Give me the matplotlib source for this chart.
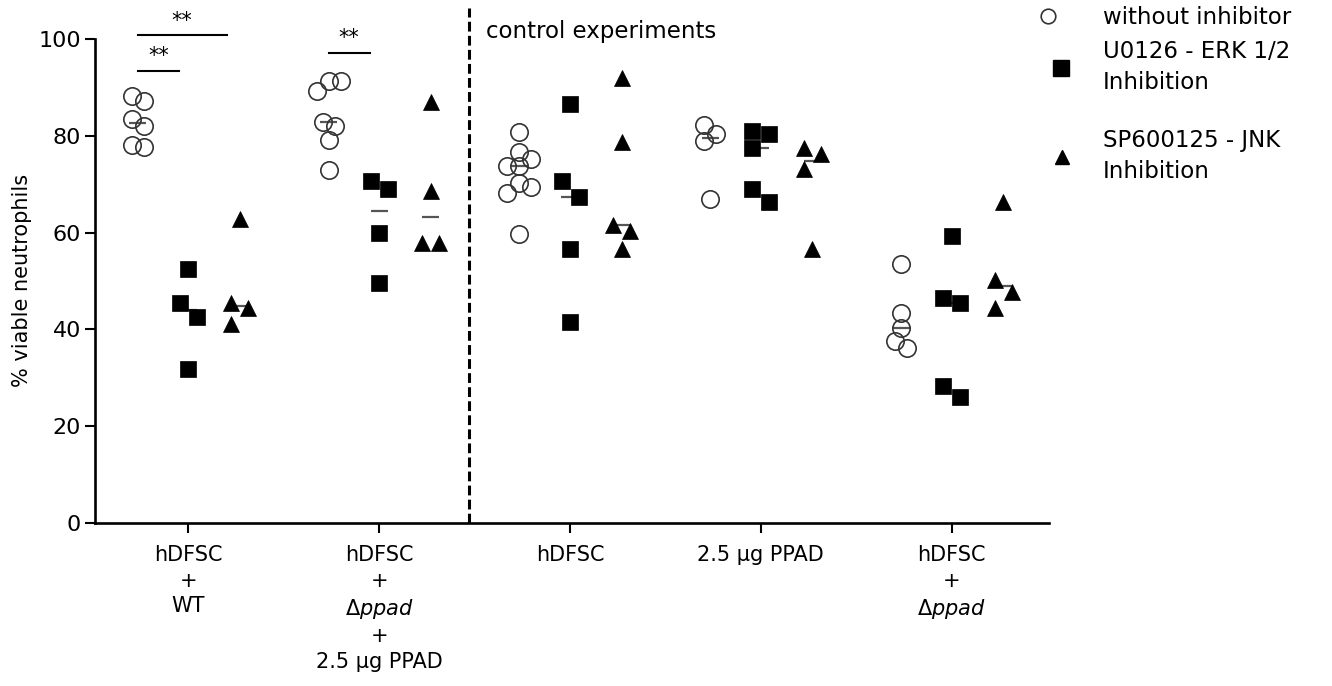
import numpy as np
import matplotlib
matplotlib.use("Agg")
import matplotlib.pyplot as plt
from matplotlib.lines import Line2D

plt.rcParams['font.family'] = ['DejaVu Sans']
plt.rcParams['mathtext.fontset'] = 'dejavusans'

# ---------------- data ----------------
categories = [
    'hDFSC\n+\nWT',
    'hDFSC\n+\n$\\Delta\\mathit{ppad}$\n+\n2.5 µg PPAD',
    'hDFSC',
    '2.5 µg PPAD',
    'hDFSC\n+\n$\\Delta\\mathit{ppad}$',
]
series_names = ['without inhibitor', 'U0126 - ERK 1/2\nInhibition', 'SP600125 - JNK\nInhibition']

without_inhibitor = [
    [88.3, 87.3, 83.4, 82.0, 78.1, 77.7],
    [91.3, 91.3, 89.3, 82.9, 82.0, 79.1, 72.9],
    [80.8, 76.7, 75.3, 73.8, 73.8, 70.3, 69.5, 68.2, 59.8],
    [82.2, 80.3, 78.9, 67.0],
    [53.4, 43.4, 40.3, 37.6, 36.2],
]
u0126 = [
    [52.5, 45.5, 42.6, 31.7],
    [70.7, 69.1, 60.0, 49.5],
    [86.5, 70.7, 67.4, 56.7, 41.5],
    [81.0, 80.3, 77.4, 69.1, 66.3],
    [59.3, 46.5, 45.4, 28.3, 26.0],
]
sp600125 = [
    [62.7, 45.5, 44.3, 41.0],
    [86.9, 68.6, 57.8, 57.8],
    [92.0, 78.7, 61.5, 60.3, 56.7],
    [77.4, 76.2, 73.2, 56.7],
    [66.3, 50.2, 47.7, 44.5],
]
yticks = [0, 20, 40, 60, 80, 100]

# significance annotations: (category, series_from, series_to, height, label)
sig_annotations = [
    (0, 0, 2, 100.8, '**'),
    (0, 0, 1, 93.5, '**'),
    (1, 0, 1, 97.2, '**'),
]

# ---------------- layout / style ----------------
W, H = 13.32, 6.86
fig = plt.figure(figsize=(W, H), dpi=100)
ax_rect = [0.0713, 0.238, 0.7162, 0.705]
ax = fig.add_axes(ax_rect)
xlim = (-0.49, 4.51)
ylim = (0, 100)
ax.set_xlim(*xlim)
ax.set_ylim(*ylim)

px_x = ax_rect[2] * W * 100 / (xlim[1] - xlim[0])
px_y = ax_rect[3] * H * 100 / (ylim[1] - ylim[0])

series_offsets = [-0.265, 0.0, 0.27]
spread_px = [12.0, 17.0, 17.0]
styles = [
    dict(marker='o', ms=12.5, mfc='none', mec='#333333', mew=1.2),
    dict(marker='s', ms=11.5, mfc='black', mec='black', mew=0.5),
    dict(marker='^', ms=11.5, mfc='black', mec='black', mew=0.5),
]


def swarm(values, d_px):
    vals = np.asarray(values, dtype=float)
    order = np.argsort(-vals, kind='stable')
    step = d_px / 2.0 / px_x
    cands = [0.0] + [k * sg * step for k in range(1, 14) for sg in (1, -1)]
    placed = []
    offs = np.zeros(len(vals))
    for i in order:
        y = vals[i]
        chosen = cands[-1]
        for c in cands:
            clash = any(abs(c - pc) * px_x < d_px - 1e-6 and abs(y - py) * px_y < d_px
                        for pc, py in placed)
            if not clash:
                chosen = c
                break
        offs[i] = chosen
        placed.append((chosen, y))
    # recenter clusters of vertically close points
    clusters = [[order[0]]]
    for a, b in zip(order[:-1], order[1:]):
        if (vals[a] - vals[b]) * px_y < d_px:
            clusters[-1].append(b)
        else:
            clusters.append([b])
    for cl in clusters:
        o = offs[cl]
        offs[cl] = o - (o.max() + o.min()) / 2.0
    return offs


all_series = [without_inhibitor, u0126, sp600125]
for s_idx, series in enumerate(all_series):
    for g_idx, vals in enumerate(series):
        xc = g_idx + series_offsets[s_idx]
        offs = swarm(vals, spread_px[s_idx])
        ax.plot(xc + offs, vals, ls='none', zorder=3, clip_on=False, **styles[s_idx])
        med = np.median(vals)
        ax.hlines(med, xc - 0.045, xc + 0.045, color='#555555', lw=1.6, zorder=2)

# significance bars
for g, s0, s1, hgt, lab in sig_annotations:
    x0 = g + series_offsets[s0]
    x1 = g + series_offsets[s1] - (0.07 if s1 == 2 else 0.05)
    ax.plot([x0, x1], [hgt, hgt], color='black', lw=1.5, clip_on=False)
    ax.text((x0 + x1) / 2, hgt + 0.9, lab, ha='center', va='bottom', fontsize=15, clip_on=False)

# separator
separator_x = 1.47
ax.plot([separator_x, separator_x], [0, 106.5], color='black', lw=2.2,
        ls=(0, (3.2, 1.4)), clip_on=False, zorder=1)
ax.text(1.56, 101.6, 'control experiments', ha='left', va='center', fontsize=16.5)

# axes styling
for sp in ['top', 'right']:
    ax.spines[sp].set_visible(False)
for sp in ['left', 'bottom']:
    ax.spines[sp].set_linewidth(1.9)
ax.set_yticks(yticks)
ax.set_xticks(range(len(categories)))
ax.tick_params(axis='both', direction='out', length=7, width=1.5)
ax.set_xticklabels(categories, fontsize=15, linespacing=1.35)
ax.tick_params(axis='y', labelsize=16, pad=3)
ax.tick_params(axis='x', pad=9)
ax.set_ylabel('% viable neutrophils', fontsize=15, labelpad=5)

# legend (three separate blocks)
legend_rows = [0.974, 0.902, 0.773]
legend_x = [0.778, 0.788, 0.789]
legend_pad = [1.9, 1.33, 1.28]
leg_handles = [
    Line2D([], [], ls='none', marker='o', ms=10.5, mfc='none', mec='#333333', mew=1.2),
    Line2D([], [], ls='none', marker='s', ms=11, mfc='black', mec='black'),
    Line2D([], [], ls='none', marker='^', ms=9.5, mfc='black', mec='black'),
]
for h, lab, xx, yy, pad in zip(leg_handles, series_names, legend_x, legend_rows, legend_pad):
    leg = fig.legend(handles=[h], labels=[lab], loc='center left',
                     bbox_to_anchor=(xx, yy), bbox_transform=fig.transFigure,
                     frameon=False, fontsize=16.5, handlelength=1.0, handletextpad=pad,
                     borderpad=0, borderaxespad=0)
    for t in leg.get_texts():
        t.set_linespacing(1.45)

fig.savefig('out.png', dpi=100)
